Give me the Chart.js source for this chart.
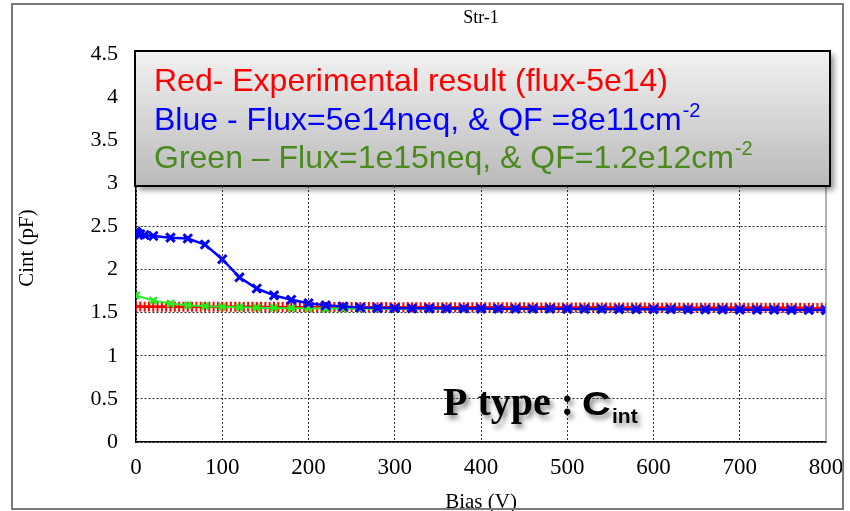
<!DOCTYPE html>
<html>
<head>
<meta charset="utf-8">
<script src="https://cdn.jsdelivr.net/npm/chart.js@4.4.1/dist/chart.umd.min.js"></script>
<style>
  html, body { margin: 0; padding: 0; background: #fff; }
  #wrap { width: 850px; height: 511px; }
</style>
</head>
<body>
<div id="wrap"><canvas id="cint"></canvas></div>
<script>
// Blue: simulation, flux 5e14 neq, QF 8e11 cm-2
const blueBias = [0, 2, 5, 10, 20, 40, 60, 80, 100, 120, 140, 160, 180, 200, 220, 240, 260, 280,
  300, 320, 340, 360, 380, 400, 420, 440, 460, 480, 500, 520, 540, 560, 580, 600, 620, 640, 660, 680,
  700, 720, 740, 760, 780, 800];
const blueCint = [2.44, 2.42, 2.41, 2.40, 2.39, 2.37, 2.36, 2.29, 2.12, 1.91, 1.78, 1.70, 1.65, 1.61, 1.585, 1.572, 1.56, 1.556,
  1.552, 1.55, 1.55, 1.548, 1.548, 1.547, 1.546, 1.546, 1.545, 1.545, 1.544, 1.543, 1.542, 1.541, 1.54, 1.54, 1.539, 1.538, 1.537, 1.536,
  1.535, 1.534, 1.533, 1.532, 1.531, 1.53];

// Green: simulation, flux 1e15 neq, QF 1.2e12 cm-2
const greenBias = [0, 20, 40, 60, 80, 100, 120, 140, 160, 180, 200, 220, 240, 260, 280,
  300, 320, 340, 360, 380, 400, 420, 440, 460, 480, 500, 520, 540, 560, 580, 600, 620, 640, 660, 680,
  700, 720, 740, 760, 780, 800];
const greenCint = [1.70, 1.64, 1.605, 1.585, 1.575, 1.568, 1.563, 1.558, 1.555, 1.552, 1.55, 1.548, 1.547, 1.546, 1.545,
  1.544, 1.544, 1.543, 1.543, 1.542, 1.542, 1.541, 1.541, 1.54, 1.54, 1.539, 1.538, 1.538, 1.537, 1.536, 1.536, 1.535, 1.534, 1.534, 1.533,
  1.532, 1.532, 1.531, 1.53, 1.53, 1.529];

// Red: experimental result, flux 5e14
const redBias = [
  0, 5, 10, 15, 20, 25, 30, 35, 40, 45, 50, 55, 60, 65, 70, 75, 80, 85, 90, 95,
  100, 105, 110, 115, 120, 125, 130, 135, 140, 145, 150, 155, 160, 165, 170, 175, 180, 185, 190, 195,
  200, 205, 210, 215, 220, 225, 230, 235, 240, 245, 250, 255, 260, 265, 270, 275, 280, 285, 290, 295,
  300, 305, 310, 315, 320, 325, 330, 335, 340, 345, 350, 355, 360, 365, 370, 375, 380, 385, 390, 395,
  400, 405, 410, 415, 420, 425, 430, 435, 440, 445, 450, 455, 460, 465, 470, 475, 480, 485, 490, 495,
  500, 505, 510, 515, 520, 525, 530, 535, 540, 545, 550, 555, 560, 565, 570, 575, 580, 585, 590, 595,
  600, 605, 610, 615, 620, 625, 630, 635, 640, 645, 650, 655, 660, 665, 670, 675, 680, 685, 690, 695,
  700, 705, 710, 715, 720, 725, 730, 735, 740, 745, 750, 755, 760, 765, 770, 775, 780, 785, 790, 795,
  800];
const redCint = [
  1.572, 1.571, 1.570, 1.571, 1.570, 1.570, 1.569, 1.570, 1.570, 1.569, 1.570, 1.569, 1.569, 1.570, 1.569, 1.569, 1.568, 1.569, 1.569, 1.568,
  1.568, 1.569, 1.568, 1.568, 1.568, 1.567, 1.568, 1.568, 1.567, 1.568, 1.567, 1.567, 1.568, 1.567, 1.567, 1.566, 1.567, 1.567, 1.566, 1.567,
  1.566, 1.566, 1.567, 1.566, 1.566, 1.566, 1.565, 1.566, 1.566, 1.565, 1.566, 1.565, 1.565, 1.566, 1.565, 1.565, 1.564, 1.565, 1.565, 1.564,
  1.565, 1.564, 1.564, 1.565, 1.564, 1.564, 1.564, 1.563, 1.564, 1.564, 1.563, 1.564, 1.563, 1.563, 1.564, 1.563, 1.563, 1.562, 1.563, 1.563,
  1.562, 1.563, 1.562, 1.562, 1.563, 1.562, 1.562, 1.562, 1.561, 1.562, 1.562, 1.561, 1.562, 1.561, 1.561, 1.562, 1.561, 1.561, 1.560, 1.561,
  1.561, 1.560, 1.561, 1.560, 1.560, 1.561, 1.560, 1.560, 1.560, 1.559, 1.560, 1.560, 1.559, 1.560, 1.559, 1.559, 1.560, 1.559, 1.559, 1.558,
  1.559, 1.559, 1.558, 1.559, 1.558, 1.558, 1.559, 1.558, 1.558, 1.558, 1.557, 1.558, 1.558, 1.557, 1.558, 1.557, 1.557, 1.558, 1.557, 1.557,
  1.557, 1.556, 1.557, 1.557, 1.556, 1.557, 1.556, 1.556, 1.557, 1.556, 1.556, 1.556, 1.555, 1.556, 1.556, 1.555, 1.556, 1.555, 1.555, 1.556,
  1.555];

const xTicks = [0, 100, 200, 300, 400, 500, 600, 700, 800];
const yTicks = [0, 0.5, 1, 1.5, 2, 2.5, 3, 3.5, 4, 4.5];

const legendLines = [
  { text: 'Red- Experimental result (flux-5e14)', sup: '', color: '#ff0000' },
  { text: 'Blue - Flux=5e14neq, & QF =8e11cm', sup: '-2', color: '#0000ff' },
  { text: 'Green \u2013 Flux=1e15neq, & QF=1.2e12cm', sup: '-2', color: '#4a8a1c' }
];

const pts = (xs, ys) => xs.map((x, i) => ({ x: x, y: ys[i] }));

const serif = '"Liberation Serif", "Times New Roman", serif';
const sans = '"Liberation Sans", Arial, sans-serif';

// frame, title, legend box and the "P type : Cint" note
const decorations = {
  id: 'decorations',
  afterDraw(chart) {
    const ctx = chart.ctx;
    const area = chart.chartArea;
    ctx.save();

    // right border of the plot
    ctx.strokeStyle = '#999';
    ctx.lineWidth = 1.5;
    ctx.beginPath();
    ctx.moveTo(area.right, area.top);
    ctx.lineTo(area.right, area.bottom);
    ctx.stroke();

    // outer frame
    ctx.strokeStyle = '#7a7a7a';
    ctx.lineWidth = 2;
    ctx.strokeRect(12, 4, 831, 505);

    // title
    ctx.fillStyle = '#000';
    ctx.font = '18px ' + serif;
    ctx.textAlign = 'center';
    ctx.textBaseline = 'middle';
    ctx.fillText('Str-1', 481, 18);

    // legend box
    const bx = 135, by = 51, bw = 695, bh = 135;
    ctx.save();
    ctx.shadowColor = 'rgba(0,0,0,0.45)';
    ctx.shadowBlur = 6;
    ctx.shadowOffsetX = 4;
    ctx.shadowOffsetY = 4;
    const grad = ctx.createLinearGradient(0, by, 0, by + bh);
    grad.addColorStop(0, '#f2f2f2');
    grad.addColorStop(1, '#b9b9b9');
    ctx.fillStyle = grad;
    ctx.fillRect(bx, by, bw, bh);
    ctx.restore();
    ctx.strokeStyle = '#000';
    ctx.lineWidth = 2;
    ctx.strokeRect(bx, by, bw, bh);

    ctx.textAlign = 'left';
    ctx.textBaseline = 'alphabetic';
    legendLines.forEach((l, i) => {
      const y = 91 + i * 38.5;
      ctx.fillStyle = l.color;
      ctx.font = '32px ' + sans;
      ctx.fillText(l.text, 154, y);
      if (l.sup) {
        const w = ctx.measureText(l.text).width;
        ctx.font = '20px ' + sans;
        ctx.fillText(l.sup, 154 + w + 1, y - 13);
      }
    });

    // P type : Cint
    ctx.save();
    ctx.shadowColor = 'rgba(0,0,0,0.45)';
    ctx.shadowBlur = 5;
    ctx.shadowOffsetX = 3;
    ctx.shadowOffsetY = 4;
    ctx.fillStyle = '#000';
    ctx.font = 'bold 40px ' + serif;
    ctx.fillText('P type :', 443, 415);
    ctx.save();
    ctx.translate(582, 415);
    ctx.scale(1.2, 1);
    ctx.font = 'bold 33px ' + sans;
    ctx.fillText('C', 0, 0);
    ctx.restore();
    ctx.font = 'bold 21px ' + sans;
    ctx.fillText('int', 612, 423);
    ctx.restore();

    ctx.restore();
  }
};

new Chart(document.getElementById('cint'), {
  type: 'line',
  data: {
    datasets: [
      {
        label: 'Blue',
        data: pts(blueBias, blueCint),
        borderColor: '#0000ff',
        backgroundColor: '#0000ff',
        borderWidth: 2.5,
        pointStyle: 'crossRot',
        pointRadius: 6,
        pointBorderWidth: 3,
        tension: 0
      },
      {
        label: 'Green',
        data: pts(greenBias, greenCint),
        borderColor: '#22ee22',
        backgroundColor: '#22ee22',
        borderWidth: 2,
        pointStyle: 'crossRot',
        pointRadius: 5,
        pointBorderWidth: 2.5,
        tension: 0
      },
      {
        label: 'Red',
        data: pts(redBias, redCint),
        borderColor: '#ff0000',
        backgroundColor: '#ff0000',
        borderWidth: 2,
        pointStyle: 'cross',
        pointRadius: 5,
        pointBorderWidth: 2,
        tension: 0
      }
    ]
  },
  options: {
    responsive: true,
    maintainAspectRatio: false,
    animation: false,
    layout: { padding: { top: 54, right: 24, left: 0, bottom: 0 } },
    plugins: {
      legend: { display: false },
      tooltip: { enabled: false }
    },
    scales: {
      x: {
        type: 'linear',
        min: 0,
        max: 800,
        afterBuildTicks: s => { s.ticks = xTicks.map(v => ({ value: v })); },
        afterFit: s => { s.height = 69; s.paddingLeft = 0; s.paddingRight = 0; },
        ticks: {
          color: '#000',
          font: { family: serif, size: 23 },
          padding: 12,
          maxRotation: 0
        },
        grid: {
          drawTicks: false,
          color: c => (c.tick && c.tick.value === 800) ? 'rgba(0,0,0,0)' : '#333',
          lineWidth: 1
        },
        border: { display: true, color: '#000', width: 1.5, dash: [2, 2] },
        title: {
          display: true,
          text: 'Bias (V)',
          color: '#000',
          font: { family: serif, size: 21, lineHeight: 0.8 },
          padding: { top: 0, bottom: 0 }
        }
      },
      y: {
        type: 'linear',
        min: 0,
        max: 4.5,
        afterBuildTicks: s => { s.ticks = yTicks.map(v => ({ value: v })); },
        afterFit: s => { s.width = 136; s.paddingTop = 0; s.paddingBottom = 0; },
        ticks: {
          color: '#000',
          font: { family: serif, size: 22 },
          padding: 18,
          callback: v => String(v)
        },
        grid: {
          drawTicks: false,
          color: c => (c.tick && c.tick.value === 4.5) ? 'rgba(0,0,0,0)' : '#333',
          lineWidth: 1
        },
        border: { display: true, color: '#000', width: 1.5, dash: [2, 2] },
        title: {
          display: true,
          text: 'Cint (pF)',
          color: '#000',
          font: { family: serif, size: 21 },
          padding: { top: 15, bottom: 0 }
        }
      }
    }
  },
  plugins: [decorations]
});
</script>
</body>
</html>
